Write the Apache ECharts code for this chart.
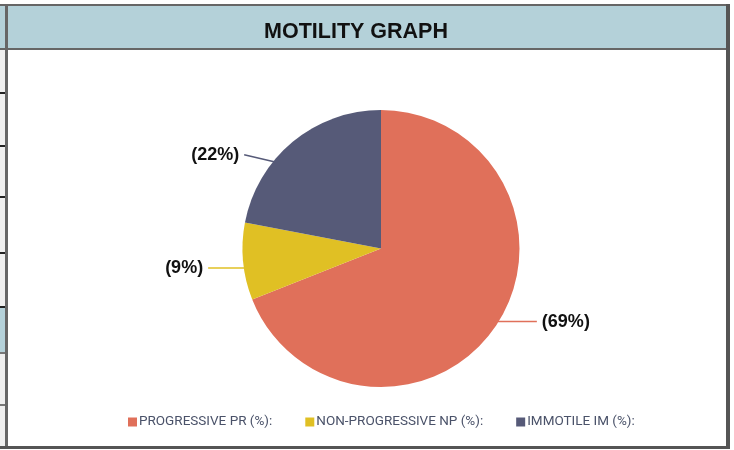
<!DOCTYPE html>
<html>
<head>
<meta charset="utf-8">
<title>Motility graph</title>
<script src="https://cdn.jsdelivr.net/npm/echarts@6/dist/echarts.min.js"></script>
<style>
  html, body { margin: 0; padding: 0; background: #fff; }
  #chart { width: 734px; height: 450px; }
</style>
</head>
<body>
<div id="chart"></div>
<script>
const categories = ['PROGRESSIVE PR (%):', 'NON-PROGRESSIVE NP (%):', 'IMMOTILE IM (%):'];
const motility = [69, 9, 22];
const colors = ['#e0705a', '#e0c024', '#565a78'];
// nudges so the labels sit where Excel put them
const labelNudge = [[4, -7], [3, 6], [-12, 16]];
// how far below the label the leader line meets the pie edge
const arcDrop = [0, 0, 7];

const cx = 381, cy = 248.5, r = 138.5;

const chart = echarts.init(document.getElementById('chart'));

// bits of the neighbouring table cut off at the left edge
const stripLines = [93, 146, 197, 253, 307].map(y => ({
  type: 'rect', shape: { x: 0, y: y - 1, width: 5, height: 2 }, style: { fill: '#222' }
}));

const option = {
  animation: false,
  title: {
    text: 'MOTILITY GRAPH',
    left: 351,
    top: 16,
    textAlign: 'center',
    textStyle: { fontFamily: 'Liberation Sans', fontWeight: 'bold', fontSize: 21.5, color: '#111' }
  },
  legend: {
    bottom: 16,
    left: 123,
    itemWidth: 9,
    itemHeight: 9,
    itemGap: 33,
    icon: 'rect',
    textStyle: { fontFamily: 'Roboto', fontSize: 13.5, color: '#4a5269', padding: [0, 0, 0, -3] },
    data: categories
  },
  graphic: [
    { type: 'rect', shape: { x: 0, y: 49, width: 6, height: 399 }, style: { fill: '#efefef' } },
    { type: 'rect', shape: { x: 0, y: 307, width: 6, height: 46 }, style: { fill: '#b4d1d9' } },
    { type: 'rect', shape: { x: 0, y: 352, width: 6, height: 2 }, style: { fill: '#777' } },
    { type: 'rect', shape: { x: 0, y: 404, width: 6, height: 2 }, style: { fill: '#777' } },
    ...stripLines,
    { type: 'rect', z: -1, shape: { x: 0, y: 5, width: 727, height: 44 }, style: { fill: '#b4d1d9' } },
    { type: 'rect', shape: { x: 0, y: 4, width: 727, height: 2 }, style: { fill: '#666' } },
    { type: 'rect', shape: { x: 0, y: 48, width: 727, height: 2 }, style: { fill: '#666' } },
    { type: 'rect', shape: { x: 5, y: 4, width: 3, height: 445 }, style: { fill: '#666' } },
    { type: 'rect', shape: { x: 726, y: 4, width: 4, height: 445 }, style: { fill: '#555' } },
    { type: 'rect', shape: { x: 0, y: 446, width: 730, height: 3 }, style: { fill: '#555' } }
  ],
  series: [
    {
      type: 'pie',
      center: [cx, cy],
      radius: r,
      startAngle: 90,
      clockwise: true,
      color: colors,
      label: {
        show: true,
        formatter: '({c}%)',
        fontFamily: 'Liberation Sans',
        fontWeight: 'bold',
        fontSize: 18,
        color: '#111'
      },
      labelLine: { show: true, length: 4, length2: 34, lineStyle: { width: 1.5 } },
      labelLayout: function (params) {
        const i = params.dataIndex;
        const n = labelNudge[i];
        const pts = params.labelLinePoints;
        if (!pts) return { dx: n[0], dy: n[1] };
        const last = pts[pts.length - 1];
        const end = [last[0] + n[0], last[1] + n[1]];
        // start the leader on the pie rim
        const y0 = end[1] + arcDrop[i];
        const side = end[0] < cx ? -1 : 1;
        const x0 = cx + side * (Math.sqrt(r * r - (y0 - cy) * (y0 - cy)) - 1);
        return {
          dx: n[0],
          dy: n[1],
          labelLinePoints: [[x0, y0], end]
        };
      },
      data: categories.map((name, i) => ({ name: name, value: motility[i] }))
    }
  ]
};

chart.setOption(option);
</script>
</body>
</html>
